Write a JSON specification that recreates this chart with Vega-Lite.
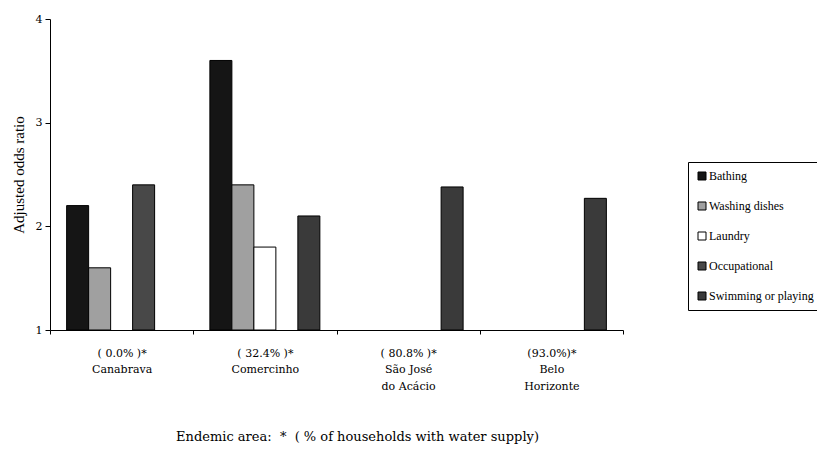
{
  "$schema": "https://vega.github.io/schema/vega-lite/v6.json",
  "width": 573,
  "height": 311,
  "autosize": {"type": "none"},
  "padding": {"left": 50, "top": 19, "right": 194, "bottom": 119},
  "background": "white",
  "config": {
    "font": "Liberation Serif",
    "view": {"stroke": null},
    "axis": {"labelFont": "DejaVu Serif", "titleFont": "Liberation Serif", "labelColor": "black", "titleColor": "black", "domainColor": "black", "tickColor": "black", "titleFontWeight": "normal", "grid": false}
  },
  "data": {
    "values": [
      {"area": "( 0.0% )*|Canabrava", "activity": "Bathing", "or": 2.2},
      {"area": "( 0.0% )*|Canabrava", "activity": "Washing dishes", "or": 1.6},
      {"area": "( 0.0% )*|Canabrava", "activity": "Occupational", "or": 2.4},
      {"area": "( 32.4% )*|Comercinho", "activity": "Bathing", "or": 3.6},
      {"area": "( 32.4% )*|Comercinho", "activity": "Washing dishes", "or": 2.4},
      {"area": "( 32.4% )*|Comercinho", "activity": "Laundry", "or": 1.8},
      {"area": "( 32.4% )*|Comercinho", "activity": "Swimming or playing", "or": 2.1},
      {"area": "( 80.8% )*|São José|do Acácio", "activity": "Swimming or playing", "or": 2.38},
      {"area": "(93.0%)*|Belo|Horizonte", "activity": "Swimming or playing", "or": 2.27}
    ]
  },
  "mark": {"type": "bar", "stroke": "black", "strokeWidth": 1},
  "encoding": {
    "x": {
      "field": "area",
      "type": "nominal",
      "sort": null,
      "scale": {"domain": ["( 0.0% )*|Canabrava", "( 32.4% )*|Comercinho", "( 80.8% )*|São José|do Acácio", "(93.0%)*|Belo|Horizonte"], "paddingInner": 0, "paddingOuter": 0},
      "axis": {
        "title": "Endemic area:\u00a0\u00a0*\u00a0\u00a0( % of households with water supply)",
        "titleFont": "DejaVu Serif",
        "titleFontSize": 13,
        "titleX": 307,
        "titleY": 100,
        "labelExpr": "split(datum.label, '|')",
        "labelAngle": 0,
        "labelFontSize": 11,
        "labelLineHeight": 16.5,
        "labelPadding": 13,
        "tickBand": "extent",
        "tickSize": 4,
        "domainWidth": 1
      }
    },
    "xOffset": {
      "field": "activity",
      "type": "nominal",
      "scale": {"domain": ["Bathing", "Washing dishes", "Laundry", "Occupational", "Swimming or playing"], "paddingInner": 0, "paddingOuter": 0.756}
    },
    "y": {
      "field": "or",
      "type": "quantitative",
      "scale": {"domain": [1, 4], "zero": false, "nice": false},
      "axis": {"title": "Adjusted odds ratio", "titleFontSize": 15, "titlePadding": 9, "values": [1, 2, 3, 4], "labelFontSize": 11, "tickSize": 5, "labelPadding": 3}
    },
    "y2": {"datum": 1},
    "color": {
      "field": "activity",
      "type": "nominal",
      "scale": {"domain": ["Bathing", "Washing dishes", "Laundry", "Occupational", "Swimming or playing"], "range": ["#151515", "#a0a0a0", "#ffffff", "#484848", "#3a3a3a"]},
      "legend": {
        "title": null,
        "orient": "none",
        "legendX": 638,
        "legendY": 143,
        "strokeColor": "black",
        "padding": 8,
        "symbolType": "square",
        "symbolSize": 64,
        "symbolStrokeColor": "black",
        "symbolStrokeWidth": 1,
        "labelFont": "Liberation Serif",
        "labelFontSize": 12,
        "labelColor": "black",
        "labelOffset": 1,
        "rowPadding": 18
      }
    }
  }
}
